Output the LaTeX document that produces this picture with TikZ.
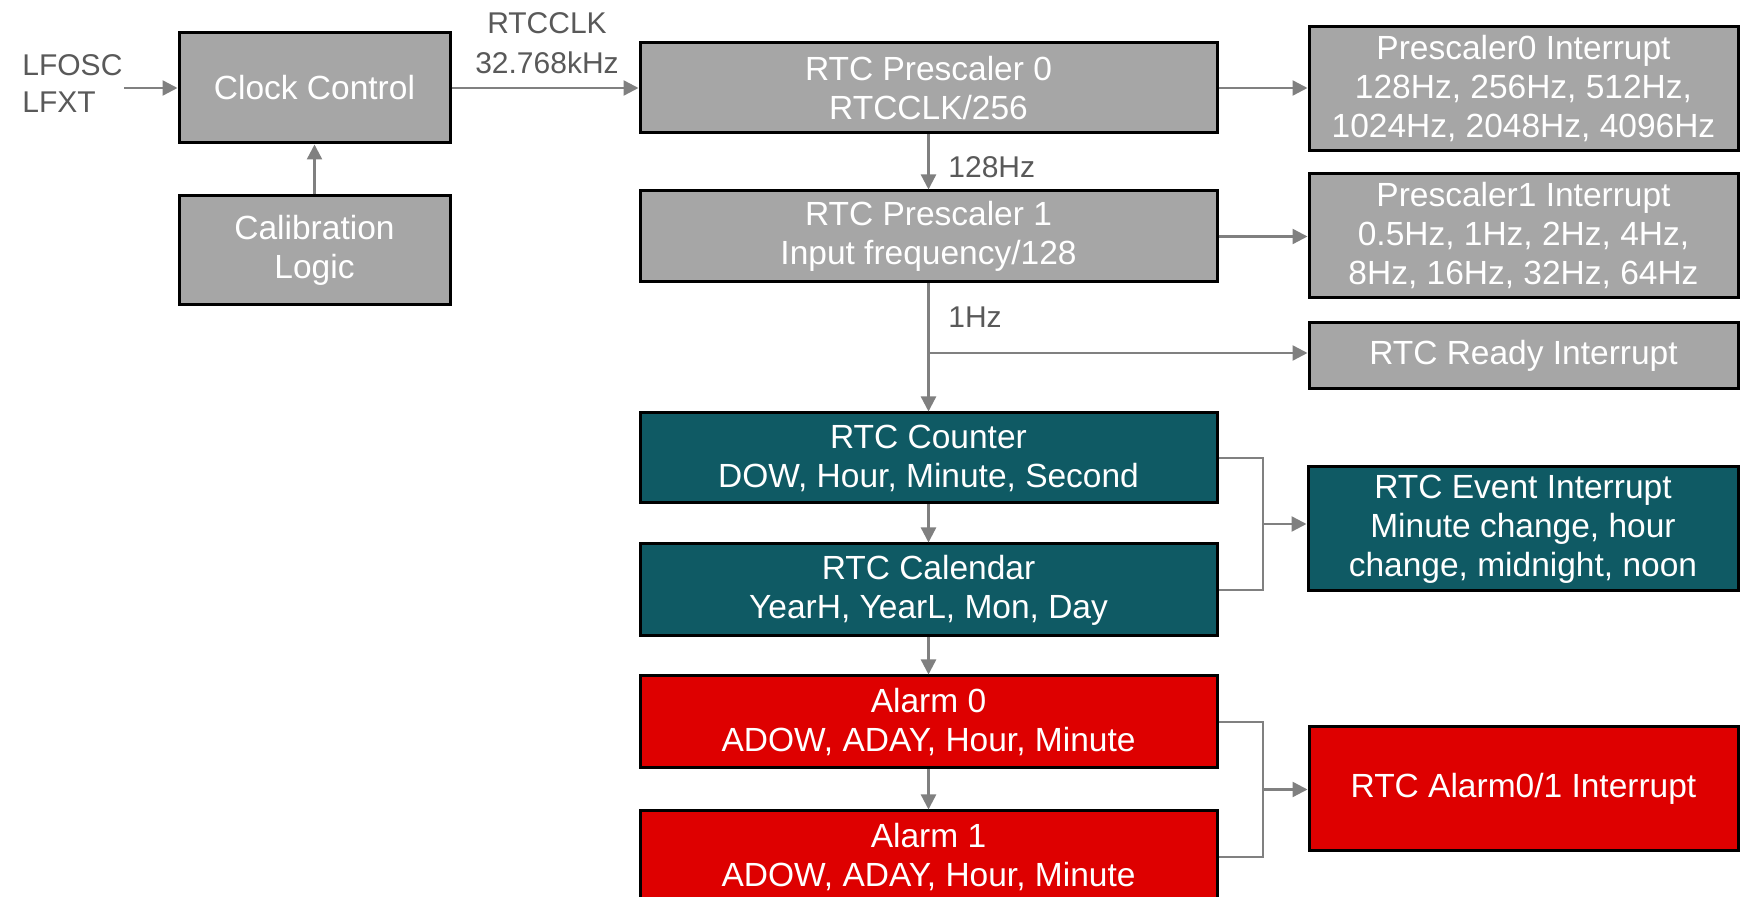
\documentclass[tikz,border=0pt]{standalone}
\usepackage{fontspec}
\setmainfont{Liberation Sans}
\usetikzlibrary{arrows.meta}
\definecolor{boxgray}{HTML}{A6A6A6}
\definecolor{boxteal}{HTML}{0F5A64}
\definecolor{boxred}{HTML}{DE0000}
\definecolor{linegray}{HTML}{808080}
\definecolor{labelgray}{HTML}{595959}
\tikzset{
  blk/.style={draw=black, line width=1.5pt, text=white, align=center, inner sep=0pt,
    font=\fontsize{16.75pt}{19.5pt}\selectfont},
  gblk/.style={blk, fill=boxgray},
  tblk/.style={blk, fill=boxteal},
  rblk/.style={blk, fill=boxred},
  lbl/.style={text=labelgray, inner sep=2pt, font=\fontsize{15pt}{20pt}\selectfont},
  conn/.style={draw=linegray, line width=1.2pt},
  arr/.style={conn, -{Triangle[length=7.5pt,width=7.5pt]}},
}
\begin{document}
\begin{tikzpicture}[x=0.5pt, y=-0.5pt]
\useasboundingbox (0,0) rectangle (1742,897);
% gray blocks
\node[gblk, minimum width=271*0.5pt, minimum height=110*0.5pt] (clk) at (314.5,88) {Clock Control};
\node[gblk, minimum width=271*0.5pt, minimum height=109*0.5pt] (cal) at (314.5,250.5) {Calibration\\Logic};
\node[gblk, minimum width=577*0.5pt, minimum height=90*0.5pt] (ps0) at (928.5,88) {RTC Prescaler 0\\RTCCLK/256};
\node[gblk, minimum width=577*0.5pt, minimum height=91*0.5pt] (ps1) at (928.5,236.5) {RTC Prescaler 1\\Input frequency/128};
\node[gblk, minimum width=429*0.5pt, minimum height=124*0.5pt] (pi0) at (1523.5,89) {Prescaler0 Interrupt\\128Hz, 256Hz, 512Hz,\\1024Hz, 2048Hz, 4096Hz};
\node[gblk, minimum width=429*0.5pt, minimum height=124*0.5pt] (pi1) at (1523.5,236) {Prescaler1 Interrupt\\0.5Hz, 1Hz, 2Hz, 4Hz,\\8Hz, 16Hz, 32Hz, 64Hz};
\node[gblk, minimum width=429*0.5pt, minimum height=66*0.5pt] (rdy) at (1523.5,356) {RTC Ready Interrupt};
% teal blocks
\node[tblk, minimum width=577*0.5pt, minimum height=90*0.5pt] (cnt) at (928.5,458) {RTC Counter\\DOW, Hour, Minute, Second};
\node[tblk, minimum width=577*0.5pt, minimum height=92*0.5pt] (calr) at (928.5,590) {RTC Calendar\\YearH, YearL, Mon, Day};
\node[tblk, minimum width=430*0.5pt, minimum height=124*0.5pt] (evt) at (1523,529) {RTC Event Interrupt\\Minute change, hour\\change, midnight, noon};
% red blocks
\node[rblk, minimum width=577*0.5pt, minimum height=92*0.5pt] (al0) at (928.5,722) {Alarm 0\\ADOW, ADAY, Hour, Minute};
\node[rblk, minimum width=577*0.5pt, minimum height=92*0.5pt] (al1) at (928.5,857) {Alarm 1\\ADOW, ADAY, Hour, Minute};
\node[rblk, minimum width=429*0.5pt, minimum height=124*0.5pt] (ali) at (1523.5,789) {RTC Alarm0/1 Interrupt};
% labels
\node[lbl, anchor=west, align=left, font=\fontsize{15pt}{18.5pt}\selectfont] (inp) at (18,84) {LFOSC\\LFXT};
\node[lbl, align=center] (rtcclk) at (547,43) {RTCCLK\\32.768kHz};
\node[lbl, anchor=west] (f128) at (944,167) {128Hz};
\node[lbl, anchor=west] (f1) at (944,317) {1Hz};
% connectors
\coordinate (inst) at (124,88);
\draw[arr] (inst) -- (clk.west);
\draw[arr] (cal.north) -- (clk.south);
\draw[arr] (clk.east) -- (ps0.west);
\draw[arr] (ps0.east) -- (pi0.west |- ps0.east);
\draw[arr] (ps1.east) -- (pi1.west |- ps1.east);
\draw[arr] (ps0.south) -- (ps1.north);
\coordinate (br) at (928.5,353);
\draw[arr] (ps1.south) -- (cnt.north);
\draw[arr] (br) -- (br -| rdy.west);
\draw[arr] (cnt.south) -- (calr.north);
\draw[arr] (calr.south) -- (al0.north);
\draw[arr] (al0.south) -- (al1.north);
\coordinate (bx1) at (1263,524);
\draw[conn] (cnt.east) -| (bx1) |- (calr.east);
\draw[arr] (bx1) -- (bx1 -| evt.west);
\coordinate (bx2) at (1263,789.5);
\draw[conn] (al0.east) -| (bx2) |- (al1.east);
\draw[arr] (bx2) -- (bx2 -| ali.west);
\end{tikzpicture}
\end{document}
